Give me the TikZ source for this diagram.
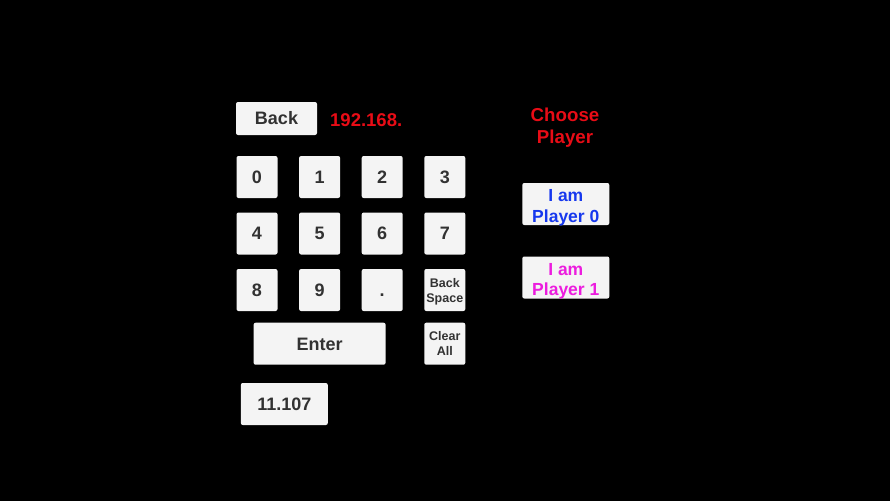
\documentclass[tikz,border=0pt]{standalone}
\usepackage{fontspec}
\setmainfont{Liberation Sans}
\definecolor{keygray}{RGB}{244,244,244}
\definecolor{keytext}{RGB}{50,50,50}
\definecolor{ipred}{RGB}{232,12,22}
\definecolor{pblue}{RGB}{22,56,238}
\definecolor{pmagenta}{RGB}{236,28,222}
\begin{document}
\begin{tikzpicture}[
  x=1pt, y=-1pt,
  pad/.style={rectangle, fill=keygray, rounded corners=2pt, minimum width=41pt, minimum height=42pt, inner sep=0pt, text=keytext, font=\bfseries\fontsize{18}{21}\selectfont},
  key/.style={pad, text height=12.9pt, text depth=0pt},
  smallkey/.style={pad, align=center, text depth=0pt, font=\bfseries\fontsize{12.5}{15}\selectfont},
  player/.style={pad, minimum width=87pt, align=center, text height=36.5pt, text depth=0pt, font=\bfseries\fontsize{17.5}{20.7}\selectfont},
  node distance=62.6pt
]
\fill[black] (0,0) rectangle (890,501);

\node[key, minimum width=81pt, minimum height=33pt] (back) at (276.5,118.5) {Back};
\node[anchor=west, inner sep=0pt, text=ipred, font=\bfseries\fontsize{18.5}{21}\selectfont] (ip) at (330,120) {192.168.};

\node[key] (k0) at (257,177) {0};
\node[key, right of=k0] (k1) {1};
\node[key, right of=k1] (k2) {2};
\node[key, right of=k2] (k3) {3};
\node[key, below of=k0, node distance=56.5pt] (k4) {4};
\node[key, right of=k4] (k5) {5};
\node[key, right of=k5] (k6) {6};
\node[key, right of=k6] (k7) {7};
\node[key, below of=k4, node distance=56.5pt] (k8) {8};
\node[key, right of=k8] (k9) {9};
\node[key, right of=k9] (dot) {.};
\node[smallkey, right of=dot] (bksp) {Back\\Space};

\node[key, below of=k9, node distance=53.7pt, minimum width=132pt] (enter) {Enter};
\node[smallkey, below of=bksp, node distance=53.7pt] (clear) {Clear\\All};
\node[key, minimum width=87pt] (result) at (284.3,404) {11.107};

\node[align=center, inner sep=0pt, text=ipred, font=\bfseries\fontsize{18.7}{21.7}\selectfont] (choose) at (565,128) {Choose\\Player};
\node[player, text=pblue] (p0) at (565.8,204) {I am\\Player 0};
\node[player, text=pmagenta, below of=p0, node distance=73.5pt] (p1) {I am\\Player 1};
\end{tikzpicture}
\end{document}
